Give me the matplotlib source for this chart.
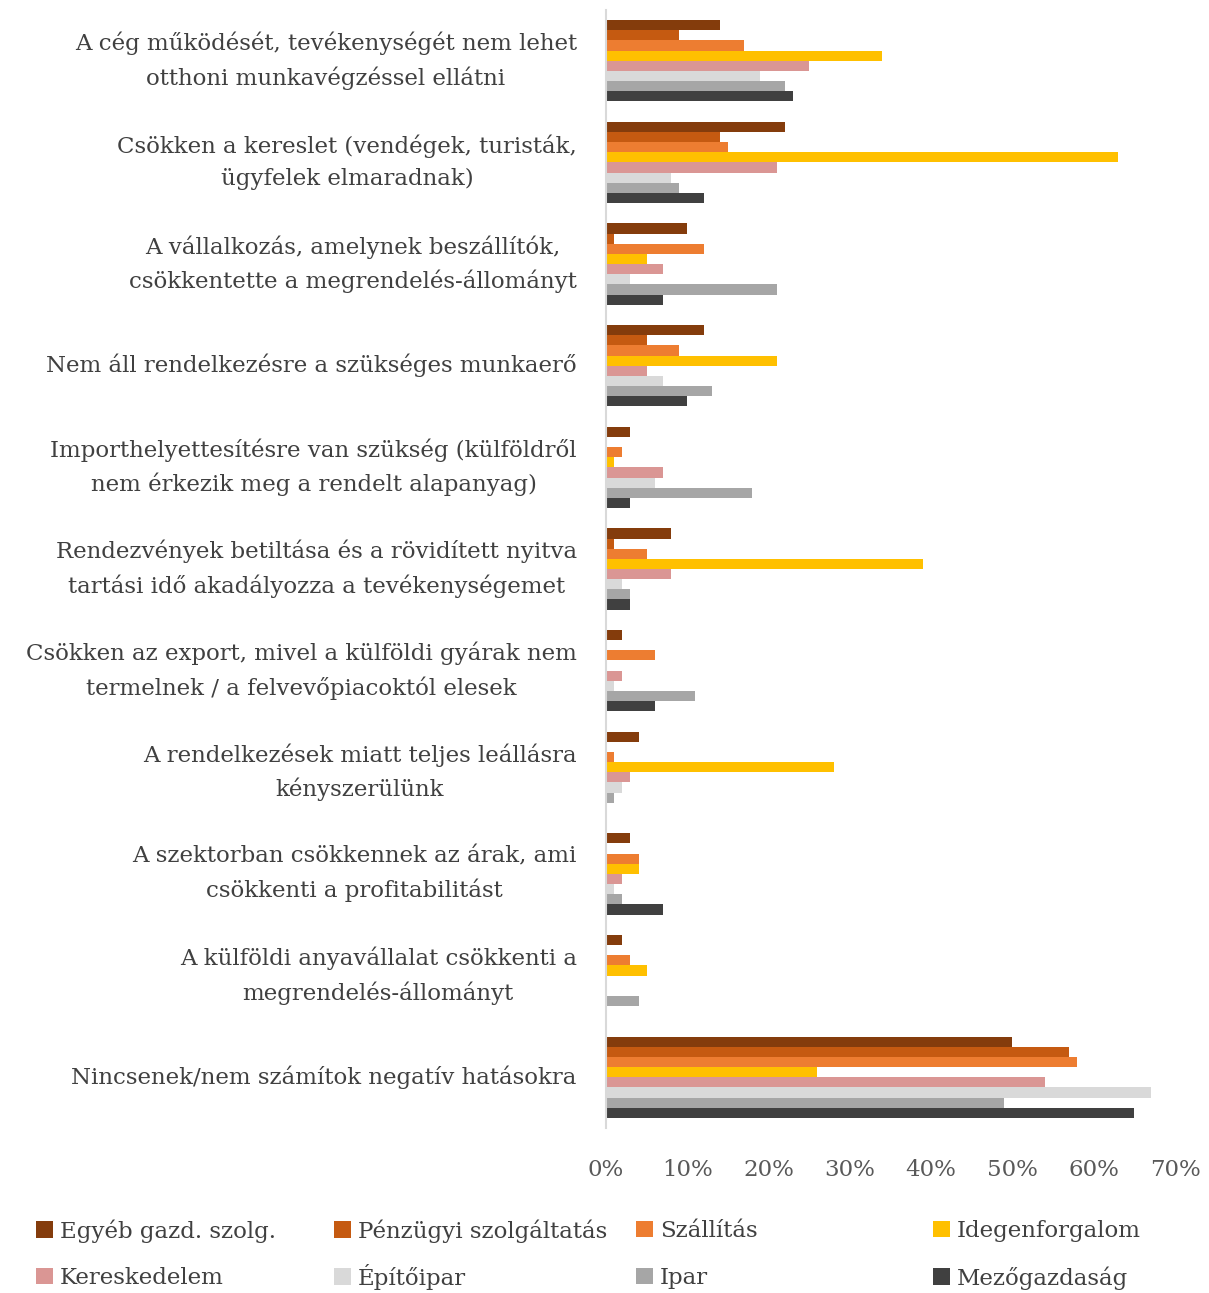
import matplotlib
matplotlib.use("Agg")
import matplotlib.pyplot as plt
import numpy as np
from matplotlib.patches import Patch

categories = [
    "A cég működését, tevékenységét nem lehet\notthoni munkavégzéssel ellátni",
    "Csökken a kereslet (vendégek, turisták,\nügyfelek elmaradnak)",
    "A vállalkozás, amelynek beszállítók,\ncsökkentette a megrendelés-állományt",
    "Nem áll rendelkezésre a szükséges munkaerő",
    "Importhelyettesítésre van szükség (külföldről\nnem érkezik meg a rendelt alapanyag)",
    "Rendezvények betiltása és a rövidített nyitva\ntartási idő akadályozza a tevékenységemet",
    "Csökken az export, mivel a külföldi gyárak nem\ntermelnek / a felvevőpiacoktól elesek",
    "A rendelkezések miatt teljes leállásra\nkényszerülünk",
    "A szektorban csökkennek az árak, ami\ncsökkenti a profitabilitást",
    "A külföldi anyavállalat csökkenti a\nmegrendelés-állományt",
    "Nincsenek/nem számítok negatív hatásokra",
]

series_names = ["Egyéb gazd. szolg.", "Pénzügyi szolgáltatás", "Szállítás", "Idegenforgalom",
                "Kereskedelem", "Építőipar", "Ipar", "Mezőgazdaság"]

egyeb      = [14, 22, 10, 12, 3, 8, 2, 4, 3, 2, 50]
penzugyi   = [9, 14, 1, 5, 0, 1, 0, 0, 0, 0, 57]
szallitas  = [17, 15, 12, 9, 2, 5, 6, 1, 4, 3, 58]
idegen     = [34, 63, 5, 21, 1, 39, 0, 28, 4, 5, 26]
kereskedelem = [25, 21, 7, 5, 7, 8, 2, 3, 2, 0, 54]
epitoipar  = [19, 8, 3, 7, 6, 2, 1, 2, 1, 0, 67]
ipar       = [22, 9, 21, 13, 18, 3, 11, 1, 2, 4, 49]
mezogazd   = [23, 12, 7, 10, 3, 3, 6, 0, 7, 0, 65]

xticks = [0, 10, 20, 30, 40, 50, 60, 70]

colors = ["#843C0C", "#C55A11", "#ED7D31", "#FFC000", "#DA9694", "#D9D9D9", "#A6A6A6", "#404040"]
data = [egyeb, penzugyi, szallitas, idegen, kereskedelem, epitoipar, ipar, mezogazd]

plt.rcParams['font.family'] = ['DejaVu Serif']
fig = plt.figure(figsize=(12.09, 12.93), dpi=100)
ax = fig.add_axes([606/1209, 1 - 1128/1293, (1175-606)/1209, (1128-10)/1293])

n = len(categories)
y = np.arange(n)
h = 0.1
for i, (vals, c) in enumerate(zip(data, colors)):
    ax.barh(y - 0.35 + i * h, vals, height=h, color=c, label=series_names[i])

ax.set_ylim(n - 0.5, -0.5)
ax.set_xlim(0, 70)
ax.set_yticks(y)
ax.set_yticklabels(categories, fontsize=16.5, color="#404040", multialignment='center',
                   linespacing=1.6, va='center')
ax.set_xticks(xticks)
ax.set_xticklabels([f"{t}%" for t in xticks], fontsize=16.5, color="#595959")
ax.tick_params(axis='both', length=0)
ax.tick_params(axis='y', pad=21)
ax.tick_params(axis='x', pad=22)
for s in ['top', 'right', 'bottom']:
    ax.spines[s].set_visible(False)
ax.spines['left'].set_color('#D9D9D9')
ax.spines['left'].set_linewidth(1.5)

handles = [Patch(facecolor=c) for c in colors]
xs = [36, 334, 636, 933]
ys = [1231, 1278]
yoff = [0, 0, 0, 0, 0, -1.5, 0, 0]
for k in range(8):
    col = k % 4
    row = k // 4
    fig.legend([handles[k]], [series_names[k]],
               loc='center left', bbox_to_anchor=(xs[col] / 1209, 1 - (ys[row] + yoff[k]) / 1293),
               frameon=False, fontsize=16.5, handlelength=0.75, handleheight=0.75,
               handletextpad=0.3, borderaxespad=0, borderpad=0,
               labelcolor="#404040")

fig.savefig("out.png", dpi=100)
